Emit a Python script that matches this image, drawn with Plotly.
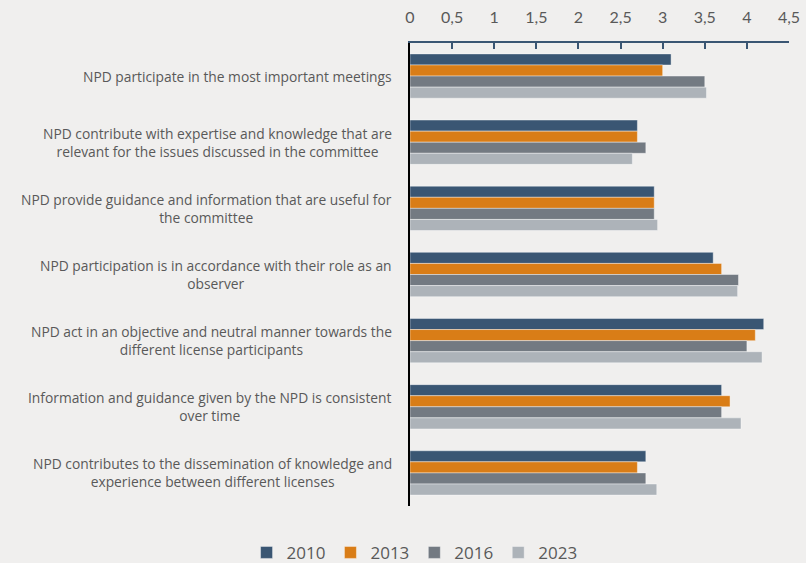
import plotly.graph_objects as go

categories = [
    "NPD participate in the most important meetings",
    "NPD contribute with expertise and knowledge that are<br>relevant for the issues discussed in the committee",
    "NPD provide guidance and information that are useful for<br>the committee",
    "NPD participation is in accordance with their role as an<br>observer",
    "NPD act in an objective and neutral manner towards the<br>different license participants",
    "Information and guidance given by the NPD is consistent<br>over time",
    "NPD contributes to the dissemination of knowledge and<br>experience between different licenses",
]
keys = [f"c{i}" for i in range(len(categories))]

years = ["2010", "2013", "2016", "2023"]
v2010 = [3.10, 2.70, 2.90, 3.60, 4.20, 3.70, 2.80]
v2013 = [3.00, 2.70, 2.90, 3.70, 4.10, 3.80, 2.70]
v2016 = [3.50, 2.80, 2.90, 3.90, 4.00, 3.70, 2.80]
v2023 = [3.52, 2.64, 2.94, 3.89, 4.18, 3.93, 2.93]
series = [v2010, v2013, v2016, v2023]
colors = ["#3a5673", "#d97d17", "#737a82", "#adb3b9"]

x_ticks = [0, 0.5, 1, 1.5, 2, 2.5, 3, 3.5, 4, 4.5]

fig = go.Figure()
for name, vals, col in zip(years, series, colors):
    fig.add_trace(go.Bar(
        y=keys, x=vals, name=name, orientation="h",
        marker=dict(color=col, line=dict(color="rgba(255,255,255,0.5)", width=0.8)),
    ))

for k, lab in zip(keys, categories):
    fig.add_annotation(
        xref="paper", yref="y", x=0, y=k, xshift=-16,
        text=lab, showarrow=False, xanchor="right", yanchor="middle",
        align="center", font=dict(family="Open Sans, sans-serif", size=13.8, color="#595959"),
    )

fig.update_layout(
    width=806, height=563,
    margin=dict(l=410, r=17, t=43, b=57),
    paper_bgcolor="#f0efee", plot_bgcolor="#f0efee",
    barmode="group", bargap=0.33, bargroupgap=0,
    separators=", ",
    font=dict(family="Open Sans, sans-serif", color="#595959"),
    showlegend=True,
    legend=dict(orientation="h", xref="paper", x=0.012, xanchor="center",
                yref="container", y=0.018, yanchor="middle",
                font=dict(size=17, color="#595959"), traceorder="normal",
                itemwidth=30, bgcolor="rgba(0,0,0,0)"),
)
fig.update_xaxes(
    side="top", range=[0, 4.5], tickvals=x_ticks, tickformat=".1~f",
    ticks="inside", ticklen=6, tickcolor="#3a5673", tickwidth=2,
    showline=True, linecolor="#3a5673", linewidth=2,
    showgrid=False, zeroline=False, ticklabelstandoff=12, automargin=False,
    tickfont=dict(family="Lato, sans-serif", size=16, color="#595959"),
)
fig.update_yaxes(
    autorange="reversed", showticklabels=False, ticks="",
    showline=True, linecolor="#000000", linewidth=2,
    showgrid=False, zeroline=False, automargin=False,
)

fig.write_html("out.html", config={"displayModeBar": False},
               post_script="document.body.style.margin='0';document.body.style.background='#f0efee';")
